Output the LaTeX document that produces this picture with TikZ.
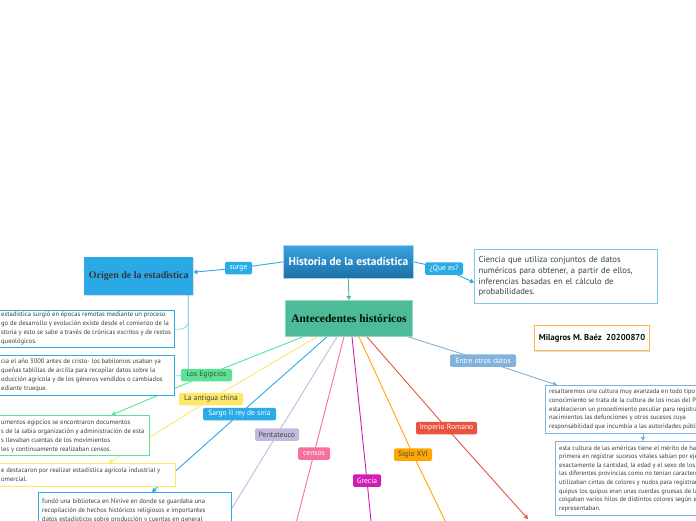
\documentclass[tikz,border=0pt]{standalone}
\usepackage{fontspec}
\setmainfont{PT Sans}
\newfontfamily\tms{Liberation Serif}
\usetikzlibrary{arrows.meta,backgrounds,shadows,calc}
\definecolor{cgreen}{HTML}{5BE294}
\definecolor{cyellow}{HTML}{FFE767}
\definecolor{cblue}{HTML}{2AABE8}
\definecolor{clav}{HTML}{C3B9DE}
\definecolor{cpink}{HTML}{F5709F}
\definecolor{cmag}{HTML}{D21DB4}
\definecolor{corange}{HTML}{FFA600}
\definecolor{cred}{HTML}{E7533F}
\definecolor{csteel}{HTML}{80B2DB}
\definecolor{corig}{HTML}{2AA9E6}
\definecolor{cant}{HTML}{4DBA9A}
\definecolor{cobr}{HTML}{93D5F5}
\definecolor{ctxt}{HTML}{33433E}
\definecolor{cdark}{HTML}{3A4A42}
\definecolor{cdef}{HTML}{7CC8F0}
\definecolor{cmil}{HTML}{FFB347}
\definecolor{ctitA}{HTML}{3AA3DF}
\definecolor{ctitB}{HTML}{1C6FA8}
\newcommand\fsz[2]{\fontsize{#1}{#2}\selectfont}
\begin{document}
\begin{tikzpicture}[x=1pt,y=-1pt,
  lbl/.style={rounded corners=1.5pt, minimum height=12.5pt, inner sep=0pt, font=\fsz{7.6}{8}},
  box/.style={draw, fill=white, anchor=north west, inner sep=0pt},
  bt/.style={anchor=west, align=left, inner sep=0pt, font=\fsz{6.6}{9}, text=ctxt},
  rt/.style={anchor=west, align=left, inner sep=0pt, font=\fsz{6.5}{8.6}, text=ctxt},
  con/.style={line width=0.9pt},
  arr/.style={-{Triangle[length=4pt,width=4.5pt]}},
  shd/.style={drop shadow={shadow xshift=0.8pt, shadow yshift=-1pt, opacity=0.25}}
]
\useasboundingbox (0,0) rectangle (696,520);

% main nodes
\node[anchor=north west, top color=ctitA, bottom color=ctitB, draw=cdef!70, line width=0.8pt,
      minimum width=130, minimum height=33, inner sep=0pt, text=white,
      font=\fsz{11.4}{12}\bfseries, shd] (hist) at (283,245) {Historia de la estadística};
\node[anchor=north west, fill=corig, minimum width=109, minimum height=38, inner sep=0pt,
      text=black!80!cyan!60!black, font=\tms\fsz{10}{11}\bfseries, shd] (org) at (84,257) {Origen de la estadistica};
\node[anchor=north west, fill=cant, draw=cant!60, line width=0.8pt, minimum width=127, minimum height=36, inner sep=0pt,
      text=black!85!green!50!black, font=\tms\fsz{11.5}{12}\bfseries, shd] (ant) at (285,300) {Antecedentes históricos};
\node[box, draw=cdef, line width=1.1pt, minimum width=183, minimum height=54, inner xsep=4pt,
      text width=175, align=left, text=ctxt, font=\fsz{8.6}{10.8}] (def) at (474,249)
  {Ciencia que utiliza conjuntos de datos\\numéricos para obtener, a partir de ellos,\\inferencias basadas en el cálculo de\\probabilidades.};
\node[box, draw=cmil, line width=1.1pt, minimum width=115, minimum height=25,
      text=black!80!green!40!black, font=\fsz{8.6}{9}\bfseries, shd] (mil) at (534,325) {Milagros M. Baéz\ \ 20200870};

% text boxes
\node[box, draw=cblue, line width=1.4pt, minimum width=194, minimum height=37] (b1) at (-20,310) {};
\node[bt] (t1) at (1,328.5) {estadística surgió en épocas remotas mediante un proceso\\go de desarrollo y evolución existe desde el comienzo de la\\storia y esto se sabe a través de crónicas escritos y de restos\\queológicos.};
\node[box, draw=cblue, line width=1.4pt, minimum width=194, minimum height=40] (b2) at (-20,355) {};
\node[bt] (t2) at (1,375.5) {cia el año 3000 antes de cristo- los babilonios usaban ya\\queñas tablillas de arcilla para recopilar datos sobre la\\oducción agrícola y de los géneros vendidos o cambiados\\ediante trueque.};
\node[box, draw=cgreen, line width=1.4pt, minimum width=169, minimum height=40] (gb) at (-20,415) {};
\node[bt] (tg) at (1,436) {umentos egipcios se encontraron documentos\\s de la sabia organización y administración de esta\\s llevaban cuentas de los movimientos\\les y continuamente realizaban censos.};
\node[box, draw=cyellow, line width=1.4pt, minimum width=195, minimum height=23] (yb) at (-20,463) {};
\node[bt] (ty) at (1,475) {e destacaron por realizar estadística agrícola industrial y\\omercial.};
\node[box, draw=cblue, line width=1.4pt, minimum width=193, minimum height=50] (sb) at (38,492) {};
\node[bt] (ts) at (42,511) {fundó una biblioteca en Ninive en donde se guardaba una\\recopilación de hechos históricos religiosos e importantes\\datos estadísticos sobre producción y cuentas en general};
\node[box, draw=csteel, line width=1.2pt, minimum width=200, minimum height=48] (r1) at (545,385) {};
\node[rt] (tr1) at (549,409.5) {resaltaremos una cultura muy avanzada en todo tipo de\\conocimiento se trata de la cultura de los incas del Perú\\establecieron un procedimiento peculiar para registrar\\nacimientos las defunciones y otros sucesos cuya\\responsabilidad que incumbía a las autoridades públicas};
\node[box, draw=csteel, line width=1.2pt, minimum width=200, minimum height=74] (r2) at (555,441) {};
\node[rt] (tr2) at (559,478.5) {esta cultura de las américas tiene el mérito de haber\\primera en registrar sucesos vitales sabían por ejemplo\\exactamente la cantidad, la edad y el sexo de los\\las diferentes provincias como no tenían caracteres\\utilizaban cintas de colores y nudos para registrar\\quipus los quipus eran unas cuerdas gruesas de las\\colgaban varios hilos de distintos colores según el\\representaban.};

% labels
\node[lbl, fill=cblue, text=white, minimum width=27] (surge) at (238.5,268) {surge};
\node[lbl, fill=cblue, text=white, minimum width=38] (que) at (444,268.5) {¿Que es?};
\node[lbl, fill=cgreen, text=cdark, minimum width=51] (egL) at (206.5,375) {Los Egipcios};
\node[lbl, fill=cyellow, text=cdark, minimum width=64] (chL) at (211,399) {La antigua china};
\node[lbl, fill=cblue, text=white, minimum width=73] (saL) at (239.5,414) {Sargo II rey de siria};
\node[lbl, fill=clav, text=cdark, minimum width=44] (peL) at (277,434.5) {Pentateuco};
\node[lbl, fill=cpink, text=white, minimum width=32] (ceL) at (314,453.5) {censos};
\node[lbl, fill=cmag, text=white, minimum width=28] (grL) at (367,480.5) {Grecia};
\node[lbl, fill=corange, text=cdark, minimum width=38] (siL) at (413,454.5) {Siglo XVI};
\node[lbl, fill=cred, text=white, minimum width=61] (imL) at (446.5,428) {Imperio Romano};
\node[lbl, fill=csteel, text=white, minimum width=66] (enL) at (483,360.5) {Entre otros datos};

\coordinate (peE) at (218,531);
\coordinate (ceE) at (294,531);
\coordinate (grE) at (372,531);
\coordinate (siE) at (450,531);
\coordinate (imE) at (528,519);

\begin{pgfonlayer}{background}
\draw[con, cblue] (hist.west) -- (surge.center);
\draw[con, cblue, arr] (surge.center) -- ([yshift=4pt]org.east);
\draw[con, cblue] (hist.east) -- (que.center);
\draw[con, cblue, arr] (que.center) -- ([yshift=-6pt]def.west);
\draw[con, cant, arr] (hist.south) -- (ant.north);
\draw[con, cobr, rounded corners=8pt] ([xshift=-5pt]org.south east) |- (b2.east);
\draw[con, cobr, rounded corners=8pt] ([xshift=-5pt]org.south east) |- (b1.east);
\draw[con, cgreen] ([xshift=18pt]ant.south west) -- (egL.center);
\draw[con, cgreen, arr] (egL.center) -- ([xshift=-39pt]gb.north east);
\draw[con, cyellow] ([xshift=32pt]ant.south west) -- (chL.center);
\draw[con, cyellow, arr] (chL.center) -- ([xshift=-68pt]yb.north east);
\draw[con, cblue] ([xshift=42pt]ant.south west) -- (saL.center);
\draw[con, cblue, arr] (saL.center) -- ([xshift=114pt]sb.north west);
\draw[con, clav] ([xshift=52pt]ant.south west) -- (peL.center) -- (peE);
\draw[con, cpink] ([xshift=59pt]ant.south west) -- (ceL.center) -- (ceE);
\draw[con, cmag] ([xshift=67pt]ant.south west) -- (grL.center) -- (grE);
\draw[con, corange] ([xshift=74pt]ant.south west) -- (siL.center) -- (siE);
\draw[con, cred] ([xshift=82pt]ant.south west) -- (imL.center);
\draw[con, cred, arr] (imL.center) -- (imE);
\draw[con, csteel] ([xshift=123pt]ant.south west) -- (enL.center);
\draw[con, csteel, arr] (enL.center) -- ([xshift=12pt]r1.north west);
\draw[con, csteel, arr] ([xshift=98pt]r1.south west) -- ([xshift=88pt]r2.north west);
\end{pgfonlayer}
\end{tikzpicture}
\end{document}
